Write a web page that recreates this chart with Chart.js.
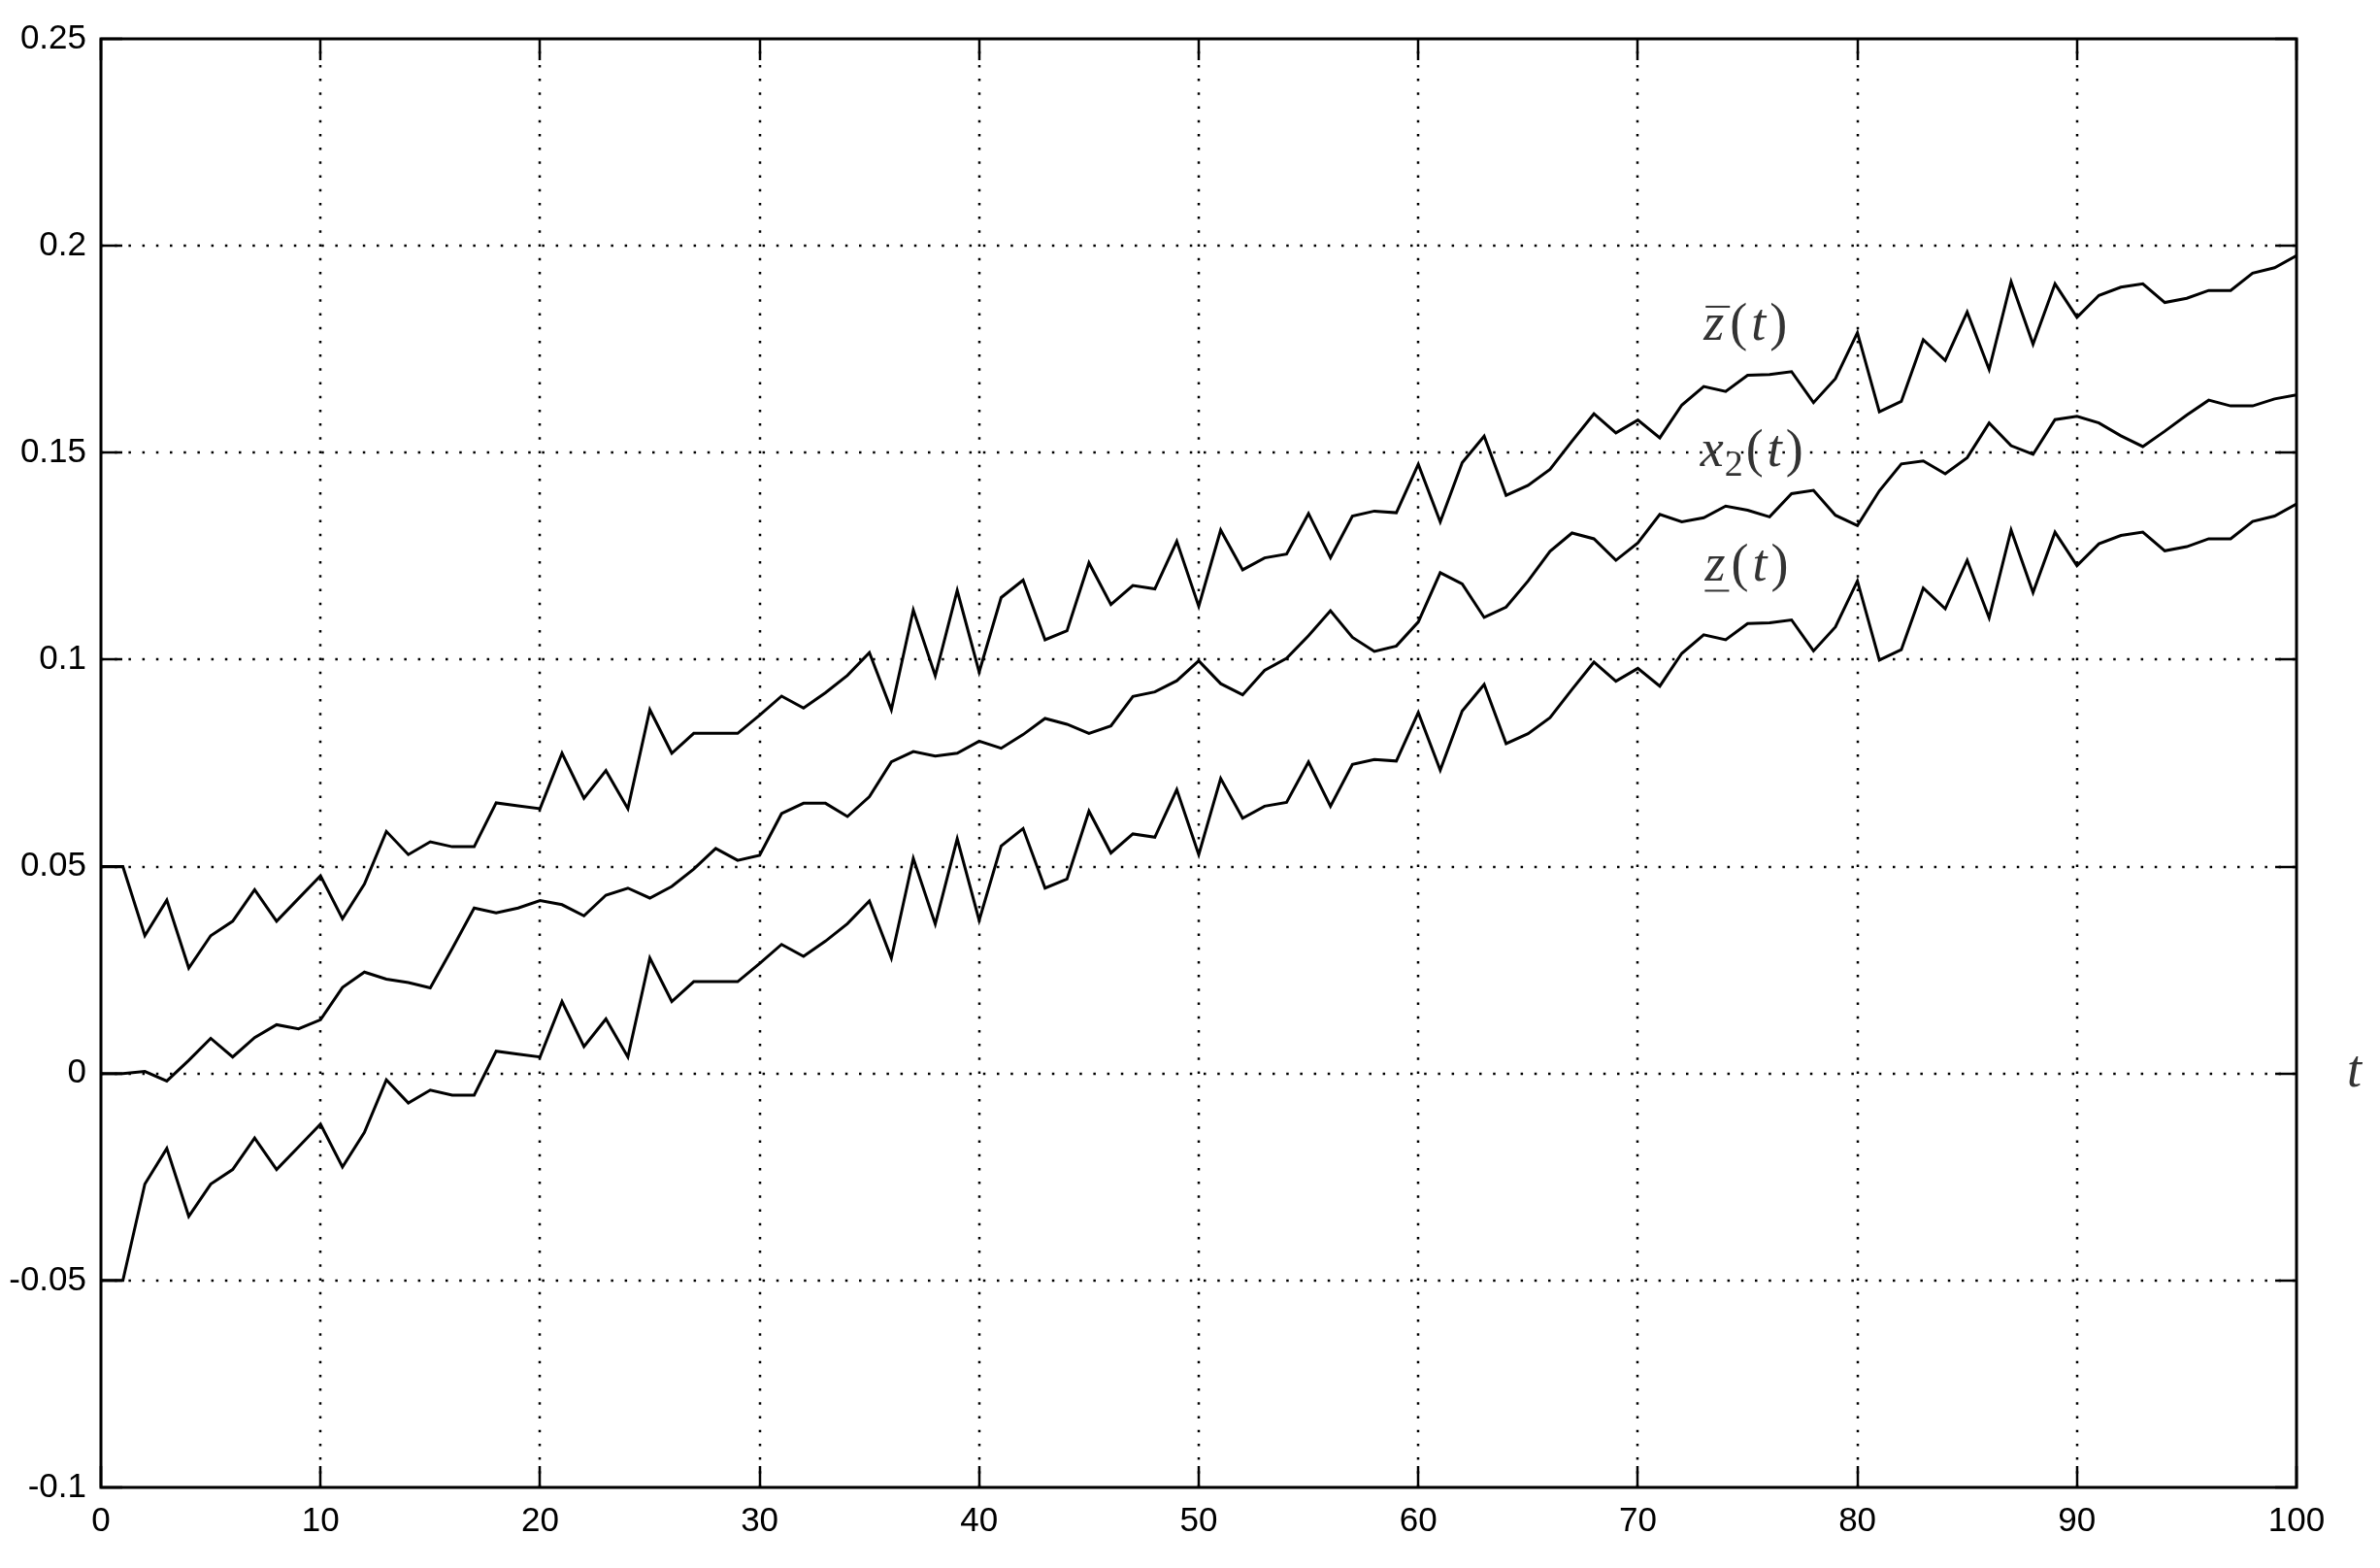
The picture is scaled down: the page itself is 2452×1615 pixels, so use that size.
<!DOCTYPE html>
<html>
<head>
<meta charset="utf-8">
<title>z(t), x2(t)</title>
<script src="https://cdn.jsdelivr.net/npm/chart.js@4.4.0/dist/chart.umd.min.js"></script>
<style>
  html, body { margin: 0; padding: 0; background: #fff; }
  #wrap { width: 2452px; height: 1615px; }
</style>
</head>
<body>
<div id="wrap"><canvas id="trajChart" width="2452" height="1615"></canvas></div>
<script>
// time steps
const tValues = [
  0, 1, 2, 3, 4, 5, 6, 7, 8, 9,
  10, 11, 12, 13, 14, 15, 16, 17, 18, 19,
  20, 21, 22, 23, 24, 25, 26, 27, 28, 29,
  30, 31, 32, 33, 34, 35, 36, 37, 38, 39,
  40, 41, 42, 43, 44, 45, 46, 47, 48, 49,
  50, 51, 52, 53, 54, 55, 56, 57, 58, 59,
  60, 61, 62, 63, 64, 65, 66, 67, 68, 69,
  70, 71, 72, 73, 74, 75, 76, 77, 78, 79,
  80, 81, 82, 83, 84, 85, 86, 87, 88, 89,
  90, 91, 92, 93, 94, 95, 96, 97, 98, 99,
  100
];

// upper bound  z-bar(t)
const zUpper = [
  0.0500, 0.0500, 0.0333, 0.0419, 0.0255, 0.0333, 0.0368, 0.0444, 0.0368, 0.0423,
  0.0478, 0.0374, 0.0458, 0.0585, 0.0529, 0.0560, 0.0548, 0.0548, 0.0654, 0.0647,
  0.0640, 0.0774, 0.0665, 0.0732, 0.0640, 0.0879, 0.0774, 0.0822, 0.0822, 0.0822,
  0.0866, 0.0912, 0.0883, 0.0920, 0.0962, 0.1017, 0.0879, 0.1120, 0.0961, 0.1167,
  0.0970, 0.1150, 0.1192, 0.1048, 0.1070, 0.1234, 0.1133, 0.1179, 0.1171, 0.1286,
  0.1129, 0.1313, 0.1217, 0.1246, 0.1255, 0.1353, 0.1246, 0.1347, 0.1359, 0.1355,
  0.1472, 0.1333, 0.1476, 0.1540, 0.1397, 0.1421, 0.1460, 0.1528, 0.1594, 0.1548,
  0.1579, 0.1536, 0.1615, 0.1660, 0.1648, 0.1687, 0.1689, 0.1696, 0.1621, 0.1679,
  0.1790, 0.1599, 0.1624, 0.1773, 0.1723, 0.1840, 0.1701, 0.1913, 0.1762, 0.1908,
  0.1827, 0.1880, 0.1900, 0.1908, 0.1863, 0.1873, 0.1892, 0.1892, 0.1934, 0.1947,
  0.1976
];

// state x2(t)
const x2 = [
  0.0000, 0.0000, 0.0005, -0.0018, 0.0032, 0.0085, 0.0040, 0.0087, 0.0118, 0.0108,
  0.0130, 0.0208, 0.0245, 0.0228, 0.0220, 0.0207, 0.0302, 0.0400, 0.0388, 0.0400,
  0.0418, 0.0408, 0.0381, 0.0431, 0.0448, 0.0424, 0.0452, 0.0494, 0.0544, 0.0515,
  0.0527, 0.0628, 0.0653, 0.0653, 0.0621, 0.0669, 0.0753, 0.0778, 0.0767, 0.0774,
  0.0803, 0.0786, 0.0819, 0.0858, 0.0844, 0.0822, 0.0840, 0.0911, 0.0922, 0.0949,
  0.0997, 0.0942, 0.0915, 0.0974, 0.1003, 0.1058, 0.1118, 0.1054, 0.1020, 0.1033,
  0.1091, 0.1210, 0.1183, 0.1102, 0.1127, 0.1190, 0.1262, 0.1306, 0.1292, 0.1240,
  0.1282, 0.1351, 0.1333, 0.1343, 0.1371, 0.1361, 0.1345, 0.1401, 0.1409, 0.1349,
  0.1324, 0.1408, 0.1473, 0.1480, 0.1449, 0.1488, 0.1572, 0.1517, 0.1496, 0.1580,
  0.1588, 0.1572, 0.1541, 0.1515, 0.1552, 0.1591, 0.1627, 0.1613, 0.1613, 0.1630,
  0.1640
];

// lower bound  z-underbar(t)
const zLower = [
  -0.0500, -0.0500, -0.0267, -0.0181, -0.0345, -0.0267, -0.0232, -0.0156, -0.0232, -0.0177,
  -0.0122, -0.0226, -0.0142, -0.0015, -0.0071, -0.0040, -0.0052, -0.0052, 0.0054, 0.0047,
  0.0040, 0.0174, 0.0065, 0.0132, 0.0040, 0.0279, 0.0174, 0.0222, 0.0222, 0.0222,
  0.0266, 0.0312, 0.0283, 0.0320, 0.0362, 0.0417, 0.0279, 0.0520, 0.0361, 0.0567,
  0.0370, 0.0550, 0.0592, 0.0448, 0.0470, 0.0634, 0.0533, 0.0579, 0.0571, 0.0686,
  0.0529, 0.0713, 0.0617, 0.0646, 0.0655, 0.0753, 0.0646, 0.0747, 0.0759, 0.0755,
  0.0872, 0.0733, 0.0876, 0.0940, 0.0797, 0.0821, 0.0860, 0.0928, 0.0994, 0.0948,
  0.0979, 0.0936, 0.1015, 0.1060, 0.1048, 0.1087, 0.1089, 0.1096, 0.1021, 0.1079,
  0.1190, 0.0999, 0.1024, 0.1173, 0.1123, 0.1240, 0.1101, 0.1313, 0.1162, 0.1308,
  0.1227, 0.1280, 0.1300, 0.1308, 0.1263, 0.1273, 0.1292, 0.1292, 0.1334, 0.1347,
  0.1376
];

const xTicks = [0, 10, 20, 30, 40, 50, 60, 70, 80, 90, 100];
const yTicks = [-0.1, -0.05, 0, 0.05, 0.1, 0.15, 0.2, 0.25];
const yTickLabels = ['-0.1', '-0.05', '0', '0.05', '0.1', '0.15', '0.2', '0.25'];

function points(ys) {
  return ys.map((v, i) => ({ x: tValues[i], y: v }));
}

function strokeLine(ctx, x1, y1, x2_, y2) {
  ctx.beginPath();
  ctx.moveTo(x1, y1);
  ctx.lineTo(x2_, y2);
  ctx.stroke();
}

// dotted grid, inward ticks and the box (matlab look)
const axesBox = {
  id: 'axesBox',
  beforeDatasetsDraw(chart) {
    const { ctx, chartArea: a, scales } = chart;
    ctx.save();
    ctx.strokeStyle = '#000';
    ctx.lineWidth = 2.5;
    ctx.setLineDash([2.5, 11.7]);
    xTicks.slice(1, -1).forEach(v => {
      const px = Math.round(scales.x.getPixelForValue(v));
      strokeLine(ctx, px, a.bottom, px, a.top);
    });
    yTicks.slice(1, -1).forEach(v => {
      const py = Math.round(scales.y.getPixelForValue(v));
      strokeLine(ctx, a.left, py, a.right, py);
    });
    ctx.restore();
  },
  afterDatasetsDraw(chart) {
    const { ctx, chartArea: a, scales } = chart;
    const len = 22;
    ctx.save();
    ctx.strokeStyle = '#000';
    ctx.lineWidth = 2.5;
    xTicks.forEach(v => {
      const px = Math.round(scales.x.getPixelForValue(v));
      strokeLine(ctx, px, a.bottom, px, a.bottom - len);
      strokeLine(ctx, px, a.top, px, a.top + len);
    });
    yTicks.forEach(v => {
      const py = Math.round(scales.y.getPixelForValue(v));
      strokeLine(ctx, a.left, py, a.left + len, py);
      strokeLine(ctx, a.right, py, a.right - len, py);
    });
    ctx.lineWidth = 3;
    ctx.strokeRect(a.left, a.top, a.right - a.left, a.bottom - a.top);
    ctx.restore();
  }
};

// curve names written like the latex labels
function drawMath(ctx, px, py, parts) {
  let cx = px;
  parts.forEach(p => {
    ctx.font = (p.italic ? 'italic ' : '') + p.size + 'px "Liberation Serif"';
    const dy = p.dy || 0;
    ctx.fillText(p.text, cx, py + dy);
    const w = ctx.measureText(p.text).width;
    if (p.bar === 'over') {
      strokeLine(ctx, cx + 2, py - 34, cx + w + 6, py - 34);
    } else if (p.bar === 'under') {
      strokeLine(ctx, cx, py + 10, cx + w + 4, py + 10);
    }
    cx += w + (p.gap === undefined ? 4 : p.gap);
  });
}

const curveLabels = {
  id: 'curveLabels',
  afterDraw(chart) {
    const { ctx, scales: { x, y } } = chart;
    const fs = 54;
    ctx.save();
    ctx.fillStyle = '#333';
    ctx.strokeStyle = '#333';
    ctx.lineWidth = 2;
    ctx.textAlign = 'left';
    ctx.textBaseline = 'alphabetic';
    const tail = [
      { text: '(', size: fs },
      { text: 't', size: fs, italic: true },
      { text: ')', size: fs }
    ];
    drawMath(ctx, x.getPixelForValue(73.0), y.getPixelForValue(0.1773),
      [{ text: 'z', size: fs, italic: true, bar: 'over', gap: 6 }].concat(tail));
    drawMath(ctx, x.getPixelForValue(72.85), y.getPixelForValue(0.1469),
      [{ text: 'x', size: fs, italic: true, gap: 1 },
       { text: '2', size: 38, dy: 10, gap: 3 }].concat(tail));
    drawMath(ctx, x.getPixelForValue(73.05), y.getPixelForValue(0.1190),
      [{ text: 'z', size: fs, italic: true, bar: 'under', gap: 6 }].concat(tail));
    drawMath(ctx, x.getPixelForValue(102.3), y.getPixelForValue(-0.003),
      [{ text: 't', size: fs, italic: true }]);
    ctx.restore();
  }
};

const tickFont = { family: '"Liberation Sans", Arial, sans-serif', size: 35 };

new Chart(document.getElementById('trajChart').getContext('2d'), {
  type: 'line',
  data: {
    datasets: [
      { label: 'z\u0304(t)', data: points(zUpper), borderColor: '#000', borderWidth: 3, pointRadius: 0, fill: false, tension: 0 },
      { label: 'x\u2082(t)', data: points(x2), borderColor: '#000', borderWidth: 3, pointRadius: 0, fill: false, tension: 0 },
      { label: 'z\u0332(t)', data: points(zLower), borderColor: '#000', borderWidth: 3, pointRadius: 0, fill: false, tension: 0 }
    ]
  },
  options: {
    responsive: false,
    animation: false,
    devicePixelRatio: 1,
    layout: { padding: { top: 40, right: 86, left: 0, bottom: 0 } },
    plugins: {
      legend: { display: false },
      tooltip: { enabled: false }
    },
    scales: {
      x: {
        type: 'linear',
        min: 0,
        max: 100,
        afterBuildTicks: axis => { axis.ticks = xTicks.map(v => ({ value: v })); },
        afterFit: axis => { axis.height = 83; },
        grid: { display: false, drawTicks: false },
        border: { display: false },
        ticks: { color: '#000', font: tickFont, padding: 14, maxRotation: 0, autoSkip: false, callback: v => String(v) }
      },
      y: {
        type: 'linear',
        min: -0.1,
        max: 0.25,
        afterBuildTicks: axis => { axis.ticks = yTicks.map(v => ({ value: v })); },
        afterFit: axis => { axis.width = 104; },
        grid: { display: false, drawTicks: false },
        border: { display: false },
        ticks: { color: '#000', font: tickFont, padding: 15, autoSkip: false, callback: (v, i) => yTickLabels[i] }
      }
    }
  },
  plugins: [axesBox, curveLabels]
});
</script>
</body>
</html>
